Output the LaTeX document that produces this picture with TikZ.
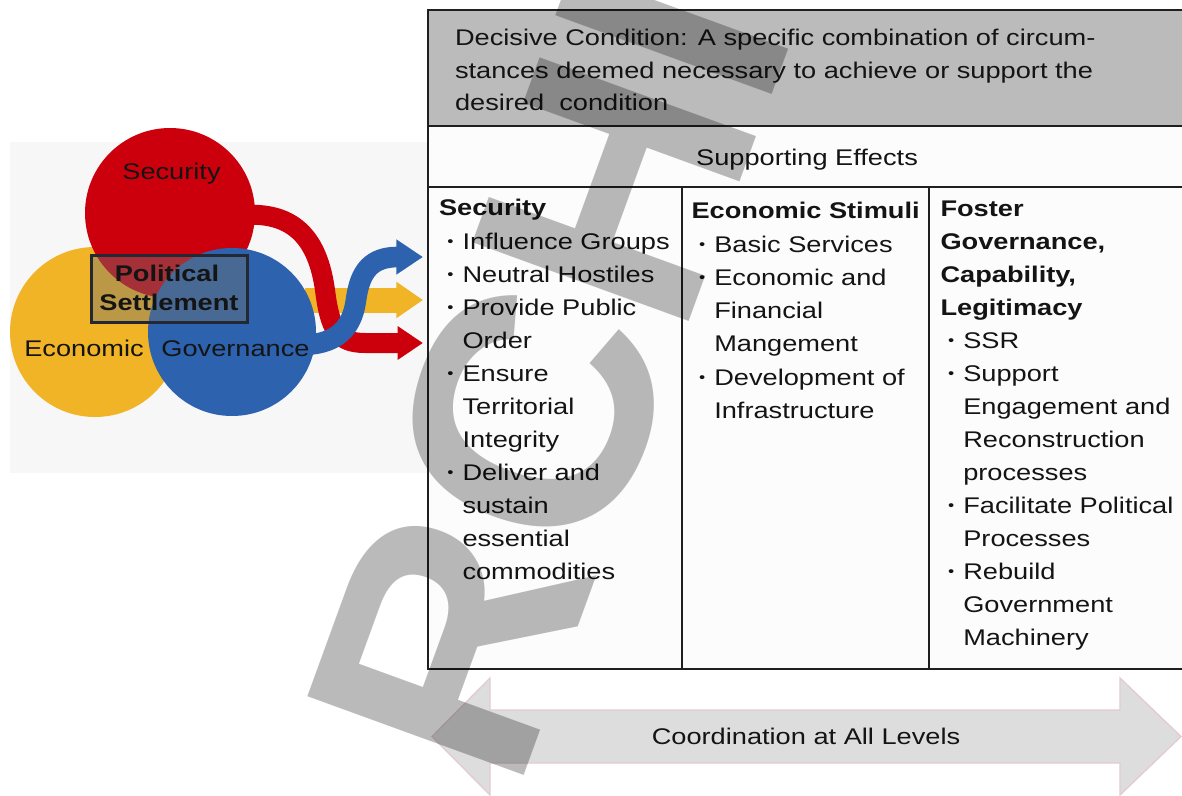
\documentclass[tikz,border=0pt]{standalone}
\usepackage{fontspec}
\setmainfont{Liberation Sans}[FakeStretch=1.2]
\newfontfamily\wmfont{Liberation Sans}
\usetikzlibrary{arrows.meta}
\definecolor{cred}{RGB}{204,0,12}
\definecolor{cyel}{RGB}{240,180,38}
\definecolor{cblue}{RGB}{44,98,174}
\definecolor{hdr}{RGB}{187,187,187}
\definecolor{pane}{RGB}{247,247,247}
\definecolor{rowbg}{RGB}{252,252,252}
\definecolor{coordfill}{RGB}{221,221,221}
\definecolor{coordline}{RGB}{226,204,208}
\definecolor{txt}{RGB}{20,20,20}
\definecolor{boxline}{RGB}{35,40,50}
\newcommand{\bul}{\llap{\raisebox{1.8pt}{\fontsize{11pt}{11pt}\selectfont •}\hspace{6.8pt}}}
\begin{document}
\begin{tikzpicture}[x=0.75pt,y=-0.75pt,
  every node/.style={inner sep=0pt, outer sep=0pt, text=txt},
  body/.style={font=\fontsize{17pt}{20pt}\selectfont, anchor=base west},
  bodyb/.style={font=\fontsize{17pt}{20pt}\selectfont\bfseries, anchor=base west},
  lbl/.style={font=\fontsize{17pt}{20pt}\selectfont, anchor=base},
  lblb/.style={font=\fontsize{17pt}{20pt}\selectfont\bfseries, anchor=base},
  blob/.style={circle, minimum size=127.5pt},
  tline/.style={draw=black!88, line width=1.6pt},
  ribbon/.style={line width=#1, line join=round},
  wm/.style={font=\wmfont\bfseries\fontsize{251pt}{251pt}\selectfont, text=black, text opacity=0.27}
]
\useasboundingbox (0,0) rectangle (1182,796);
\clip (0,0) rectangle (1182,796);
% left pane
\fill[pane] (10,142) rectangle (428,473);
% circles
\node[blob, fill=cyel] (econ) at (95,332) {};
\node[blob, fill=cred] (secu) at (170,213) {};
% yellow arrow
\coordinate (ys) at (305,300);
\coordinate (yt) at (423,300);
\draw[cyel, line width=18.75pt, -{Triangle[length=20pt,width=26pt]}] (ys) -- (yt);
\node[blob, fill=cblue, minimum size=126pt] (gov) at (232,332) {};
% red ribbon
\coordinate (rs) at (245,215);
\coordinate (rt) at (423,343);
\draw[cred, ribbon=15pt, -{Triangle[length=19pt,width=24pt]}]
  (rs) .. controls (295,212) and (318,240) .. (325,290)
  .. controls (330,330) and (338,343) .. (365,343) -- (rt);
% blue ribbon
\coordinate (bs) at (300,345);
\coordinate (bt) at (423,257);
\draw[cblue, ribbon=15.5pt, -{Triangle[length=20pt,width=25pt]}]
  (bs) .. controls (335,345) and (352,330) .. (356,300)
  .. controls (360,270) and (372,257) .. (398,257) -- (bt);
% political settlement box
\node[draw=boxline, line width=2.4pt, fill=black!55, fill opacity=0.42, text opacity=1,
      minimum width=117pt, minimum height=50.5pt] (pol) at (169.5,289) {};
\node[lblb] (pol1) at (167,281.7) {Political};
\node[lblb] (pol2) at (169,310) {Settlement};
% circle labels
\node[lbl] (l-sec) at (171.5,179) {Security};
\node[lbl] (l-eco) at (84,356.7) {Economic};
\node[lbl] (l-gov) at (235.5,356.7) {Governance};
% table
\fill[hdr] (428,10) rectangle (1190,126);
\fill[rowbg] (428,126) rectangle (1190,669);
\draw[tline, line width=2pt] (1190,10) -- (428,10) -- (428,669) -- (1190,669);
\draw[tline] (428,126) -- (1190,126);
\draw[tline] (428,187) -- (1190,187);
\draw[tline] (682,187) -- (682,669);
\draw[tline] (929,187) -- (929,669);
% header
\node[body] (h1) at (455,45.5) {Decisive Condition: A specific combination of circum-};
\node[body] (h2) at (455,78) {stances deemed necessary to achieve or support the};
\node[body] (h3) at (455,110.5) {desired\ \ condition};
\node[lbl] (se) at (807,165.5) {Supporting Effects};
% column 1
\node[bodyb] (c1h) at (439,215) {Security};
\foreach \yy/\txt [count=\i] in {249/{\bul Influence Groups},282/{\bul Neutral Hostiles},
  315/{\bul Provide Public},348/Order,381/{\bul Ensure},414/Territorial,447/Integrity,
  480/{\bul Deliver and},513/sustain,546/essential,579/commodities}
  \node[body] (c1-\i) at (462.5,\yy) {\txt};
% column 2
\node[bodyb] (c2h) at (691.5,218) {Economic Stimuli};
\foreach \yy/\txt [count=\i] in {252/{\bul Basic Services},285/{\bul Economic and},
  318/Financial,351/Mangement,385/{\bul Development of},418/Infrastructure}
  \node[body] (c2-\i) at (714.3,\yy) {\txt};
% column 3
\foreach \yy/\txt [count=\i] in {216/Foster,249/{Governance,},282/{Capability,},315/Legitimacy}
  \node[bodyb] (c3h-\i) at (940.5,\yy) {\txt};
\foreach \yy/\txt [count=\i] in {348/{\bul SSR},381/{\bul Support},414/Engagement and,
  447/Reconstruction,480/processes,513/{\bul Facilitate Political},546/Processes,
  579/{\bul Rebuild},612/Government,645/Machinery}
  \node[body] (c3-\i) at (963.3,\yy) {\txt};
% coordination arrow
\fill[coordfill, draw=coordline, line width=1pt]
  (432,736.5) -- (490,678) -- (490,710) -- (1120,710) -- (1120,678) -- (1181,736.5)
  -- (1120,795) -- (1120,763) -- (490,763) -- (490,795) -- cycle;
\node[lbl] (coord) at (806,744) {Coordination at All Levels};
% watermark
\node[wm, rotate=70, anchor=base west] (wmark) at (433.6,1023.4) {ARCHIVED};
\end{tikzpicture}
\end{document}
